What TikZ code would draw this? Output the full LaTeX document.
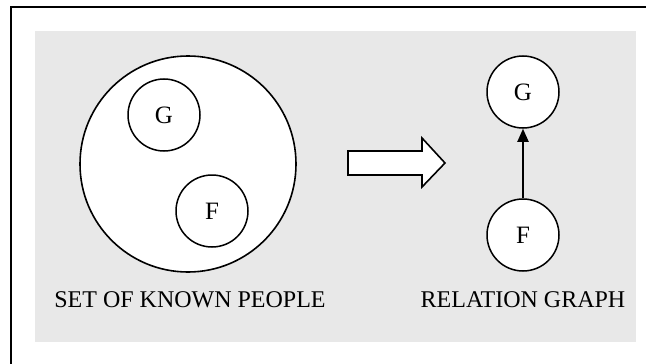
\documentclass[tikz,border=0pt]{standalone}
\usepackage{fontspec}
\setmainfont{Liberation Serif}
\usetikzlibrary{arrows.meta}
\definecolor{panelgray}{HTML}{E8E8E8}
\tikzset{
  person/.style={circle, draw, line width=1.5pt, fill=white, minimum size=72pt,
                 inner sep=0pt, font=\fontsize{25}{25}\selectfont},
  caption/.style={font=\fontsize{24}{24}\selectfont, inner sep=0pt},
  relation/.style={line width=1.8pt, -{Triangle[length=13pt,width=11pt]}},
}
\begin{document}
\begin{tikzpicture}[x=1pt,y=-1pt]
  \useasboundingbox (0,0) rectangle (646,364);
  % frame (left and top edges)
  \draw[line width=1.8pt] (11,364) -- (11,7) -- (646,7);
  % grey panel
  \fill[panelgray] (35,31) rectangle (636,342);

  % set of known people
  \node[circle, draw, line width=1.6pt, fill=white, minimum size=216pt, inner sep=0pt] (set) at (188,164) {};
  \node[person] (g1) at (164,115) {G};
  \node[person] (f1) at (212,211) {F};
  \node[caption] (lset) at (190,300) {SET OF KNOWN PEOPLE};

  % transformation arrow
  \draw[line width=1.6pt, fill=white, line join=miter]
    (348,151) -- (422,151) -- (422,138) -- (445,163) -- (422,187) -- (422,175) -- (348,175) -- cycle;

  % relation graph
  \node[person] (g2) at (523,92) {G};
  \node[person] (f2) at (523,235) {F};
  \draw[relation] (f2) -- (g2);
  \node[caption] (lrel) at (523,300) {RELATION GRAPH};
\end{tikzpicture}
\end{document}
